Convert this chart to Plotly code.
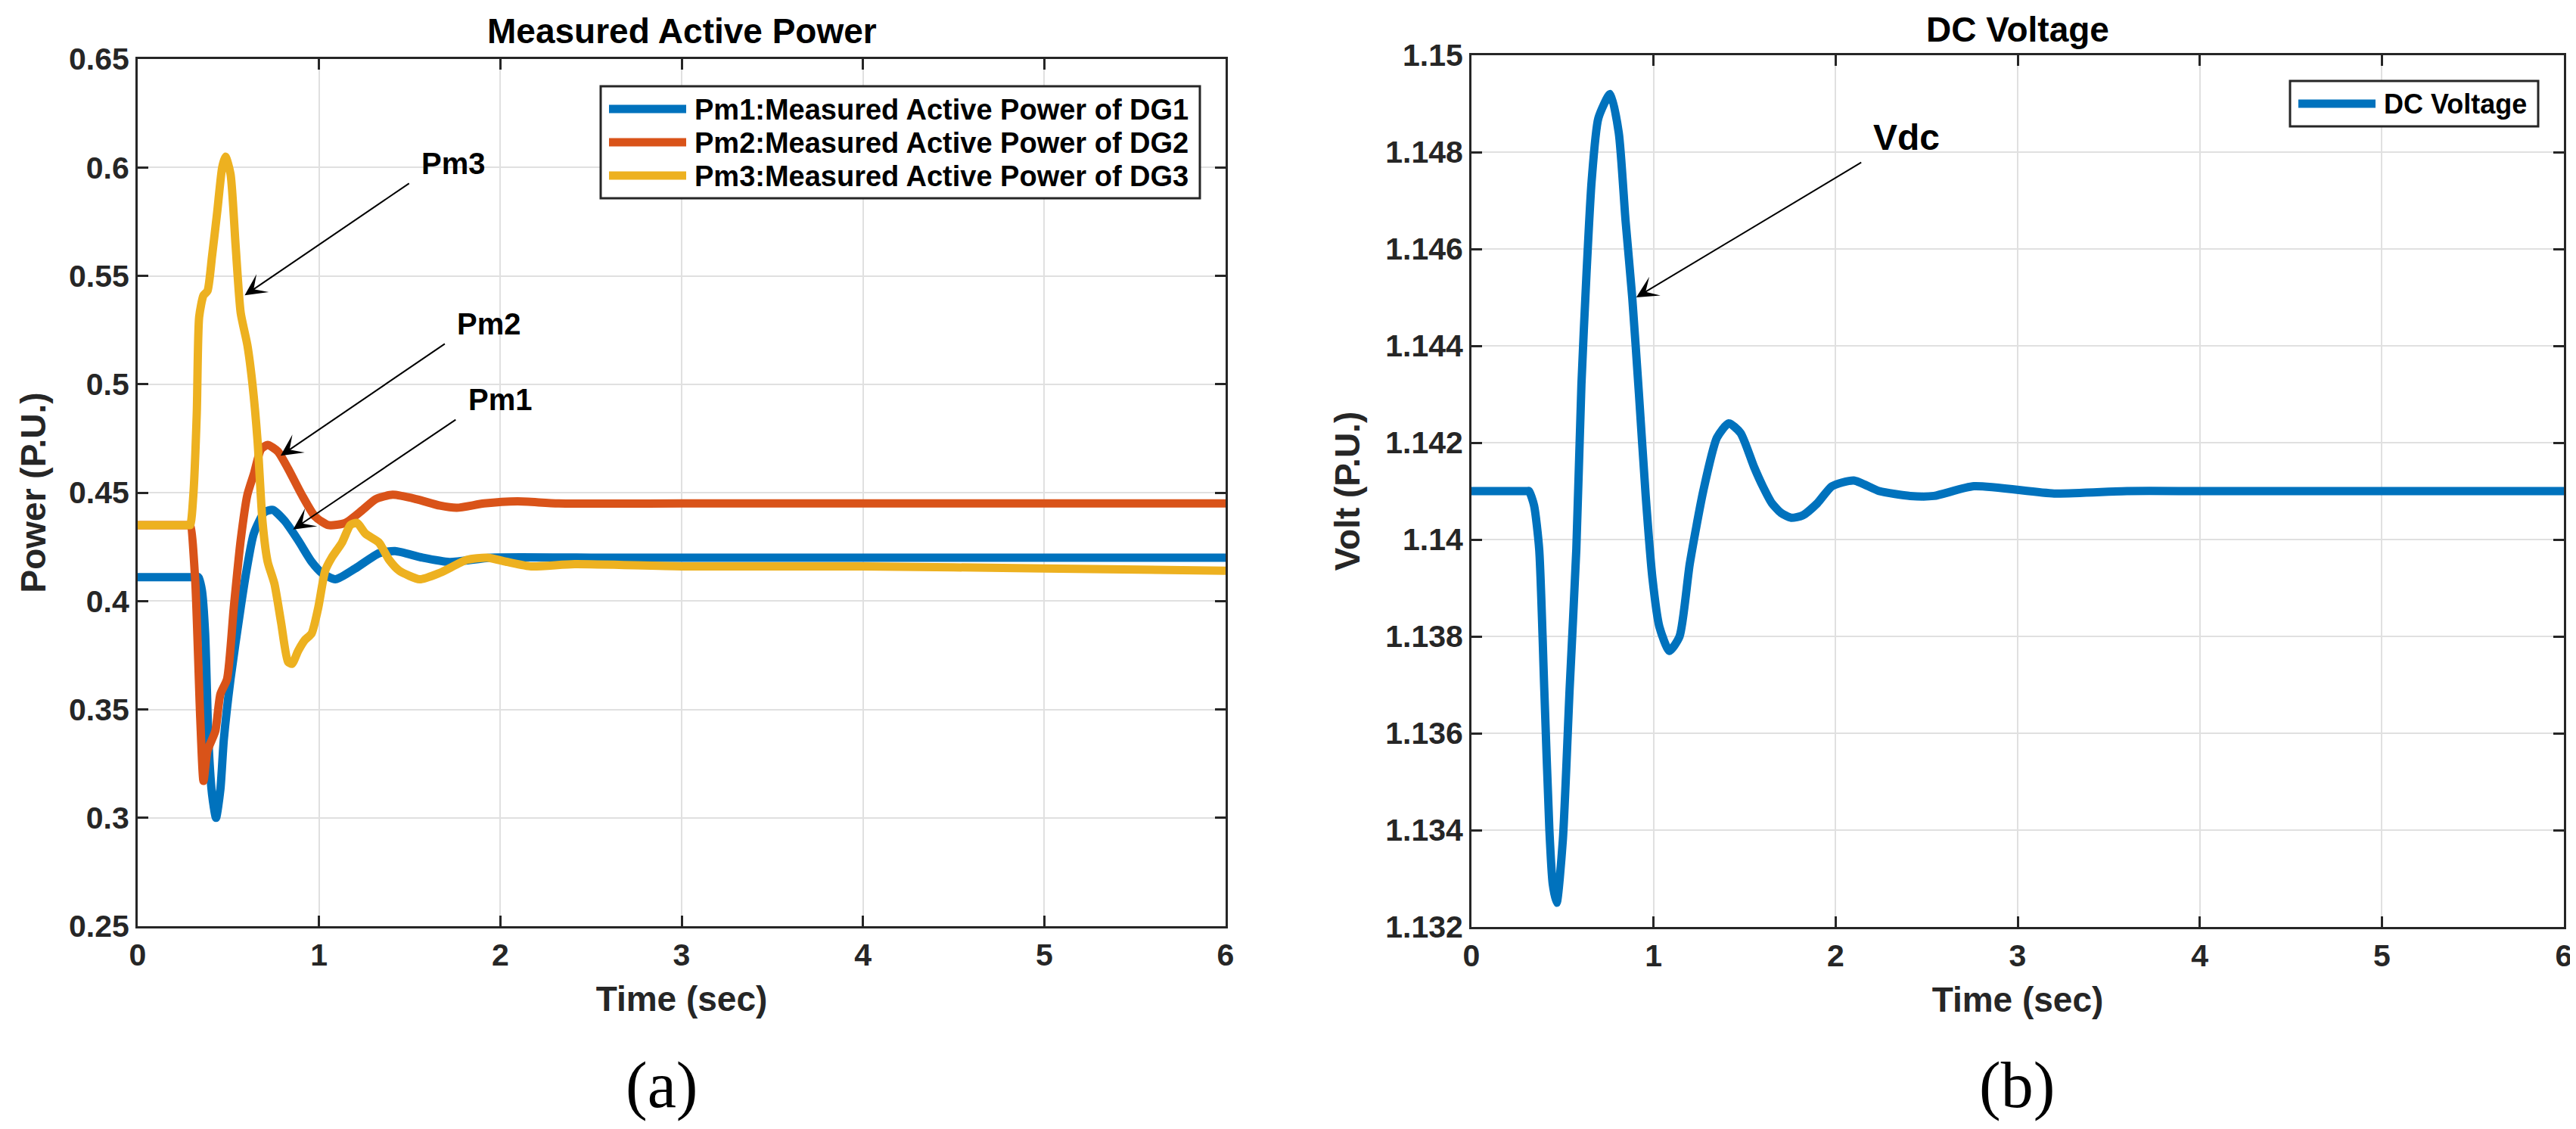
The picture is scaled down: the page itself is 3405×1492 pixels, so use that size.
import plotly.graph_objects as go

# ---------------- data ----------------
t_pm1 = [0, 0.325, 0.335, 0.354, 0.372, 0.391, 0.41, 0.432, 0.456, 0.475, 0.512, 0.568, 0.60, 0.64,
         0.70, 0.745, 0.81, 0.885, 0.96, 1.015, 1.09, 1.2, 1.33, 1.42, 1.57, 1.72, 1.95, 2.5,
         3, 4, 5, 6]
pm1 = [0.411, 0.411, 0.411, 0.405, 0.385, 0.334, 0.311, 0.300, 0.313, 0.336, 0.364, 0.397, 0.414, 0.431,
       0.441, 0.442, 0.437, 0.428, 0.418, 0.413, 0.410, 0.415, 0.422, 0.423, 0.420, 0.418, 0.420, 0.420,
       0.420, 0.420, 0.420, 0.420]

t_pm2 = [0, 0.28, 0.29, 0.317, 0.345, 0.363, 0.385, 0.428, 0.456, 0.493, 0.53, 0.568, 0.605, 0.642,
         0.68, 0.717, 0.773, 0.83, 0.905, 0.978, 1.052, 1.145, 1.24, 1.313, 1.406, 1.536, 1.667,
         1.76, 1.91, 2.095, 2.32, 3, 4, 5, 6]
pm2 = [0.435, 0.435, 0.435, 0.41, 0.346, 0.317, 0.331, 0.34, 0.357, 0.364, 0.397, 0.428, 0.449, 0.459,
       0.47, 0.472, 0.469, 0.461, 0.449, 0.439, 0.435, 0.436, 0.442, 0.447, 0.449, 0.447, 0.444,
       0.443, 0.445, 0.446, 0.445, 0.445, 0.445, 0.445, 0.445]

t_pm3 = [0, 0.28, 0.29, 0.307, 0.326, 0.339, 0.363, 0.385, 0.41, 0.438, 0.466, 0.484, 0.512, 0.54,
         0.568, 0.605, 0.633, 0.661, 0.689, 0.717, 0.754, 0.791, 0.829, 0.851, 0.885, 0.922,
         0.959, 0.996, 1.034, 1.07, 1.127, 1.173, 1.21, 1.257, 1.33, 1.387, 1.443, 1.555, 1.667,
         1.816, 1.927, 2.04, 2.17, 2.41, 3, 4, 5, 6]
pm3 = [0.435, 0.435, 0.435, 0.449, 0.487, 0.531, 0.541, 0.543, 0.559, 0.579, 0.600, 0.605, 0.597, 0.564,
       0.533, 0.518, 0.500, 0.474, 0.436, 0.418, 0.408, 0.390, 0.372, 0.371, 0.377, 0.382,
       0.385, 0.397, 0.414, 0.420, 0.427, 0.435, 0.436, 0.431, 0.427, 0.419, 0.414, 0.410, 0.413,
       0.419, 0.420, 0.418, 0.416, 0.417, 0.416, 0.416, 0.415, 0.414]

t_vdc = [0, 0.306, 0.316, 0.344, 0.372, 0.4, 0.428, 0.446, 0.468, 0.502, 0.539, 0.576, 0.604, 0.632, 0.66,
         0.697, 0.762, 0.809, 0.846, 0.883, 0.92, 0.957, 0.994, 1.032, 1.087, 1.143, 1.199,
         1.273, 1.348, 1.413, 1.478, 1.552, 1.60, 1.65, 1.70, 1.756, 1.82, 1.9, 1.98, 2.1, 2.24,
         2.41, 2.54, 2.76, 3.2, 3.6, 4, 5, 6]
vdc = [1.1410, 1.1410, 1.1410, 1.1407, 1.1398, 1.1369, 1.1340, 1.1329, 1.1325, 1.1338, 1.1369, 1.1398, 1.1432,
       1.1455, 1.1474, 1.1487, 1.1492, 1.1484, 1.1466, 1.1450, 1.1430, 1.1409, 1.1392, 1.1382,
       1.1377, 1.1380, 1.1395, 1.1410, 1.1421, 1.1424, 1.1422, 1.1415, 1.1411, 1.14075, 1.14055,
       1.14045, 1.1405, 1.14075, 1.1411, 1.14122, 1.1410, 1.1409, 1.1409, 1.1411, 1.14095, 1.1410,
       1.1410, 1.1410, 1.1410]

x_ticks = [0, 1, 2, 3, 4, 5, 6]
p_ticks = [0.25, 0.3, 0.35, 0.4, 0.45, 0.5, 0.55, 0.6, 0.65]
p_tick_text = ["0.25", "0.3", "0.35", "0.4", "0.45", "0.5", "0.55", "0.6", "0.65"]
v_ticks = [1.132, 1.134, 1.136, 1.138, 1.14, 1.142, 1.144, 1.146, 1.148, 1.15]
v_tick_text = ["1.132", "1.134", "1.136", "1.138", "1.14", "1.142", "1.144", "1.146", "1.148", "1.15"]

names = ["Pm1:Measured Active Power of DG1", "Pm2:Measured Active Power of DG2",
         "Pm3:Measured Active Power of DG3"]
vdc_name = "DC Voltage"
colors = ["#0072BD", "#D95319", "#EDB120"]

# ---------------- figure ----------------
W, H = 3405, 1492
FONT = "Liberation Sans"
AX = "#262626"
LW = 11


def px2x(p):
    return p / W


def px2y(p):
    return 1 - p / H


fig = go.Figure()
for tt, vv, nm, c in zip([t_pm1, t_pm2, t_pm3], [pm1, pm2, pm3], names, colors):
    fig.add_trace(go.Scatter(x=tt, y=vv, name=nm, mode="lines", showlegend=False,
                             line=dict(color=c, width=LW, shape="spline", smoothing=0.6),
                             xaxis="x", yaxis="y"))
fig.add_trace(go.Scatter(x=t_vdc, y=vdc, name=vdc_name, mode="lines", showlegend=False,
                         line=dict(color="#0072BD", width=LW, shape="spline", smoothing=0.6),
                         xaxis="x2", yaxis="y2"))

axis_common = dict(showline=True, linecolor=AX, linewidth=3, mirror="allticks",
                   ticks="inside", ticklen=14, tickwidth=3, tickcolor=AX,
                   showgrid=True, gridcolor="#e0e0e0", gridwidth=2, zeroline=False,
                   tickfont=dict(family=FONT, size=41, color=AX, weight="bold"),
                   automargin=False)
title_font = dict(family=FONT, size=46, color=AX, weight="bold")

fig.update_layout(
    width=W, height=H, paper_bgcolor="white", plot_bgcolor="white",
    margin=dict(l=0, r=0, t=0, b=0), showlegend=False,
    xaxis=dict(domain=[px2x(174), px2x(1612)], range=[0, 6], tickvals=x_ticks, anchor="y",
               title=dict(text="Time (sec)", standoff=20, font=title_font), **axis_common),
    yaxis=dict(domain=[px2y(1216), px2y(70)], range=[0.25, 0.65], tickvals=p_ticks,
               ticktext=p_tick_text, anchor="x",
               title=dict(text="Power (P.U.)", standoff=16, font=title_font), **axis_common),
    xaxis2=dict(domain=[px2x(1937), px2x(3381)], range=[0, 6], tickvals=x_ticks, anchor="y2",
                title=dict(text="Time (sec)", standoff=20, font=title_font), **axis_common),
    yaxis2=dict(domain=[px2y(1217), px2y(65)], range=[1.132, 1.15], tickvals=v_ticks,
                ticktext=v_tick_text, anchor="x2",
                title=dict(text="Volt (P.U.)", standoff=20, font=title_font), **axis_common),
)

ann = []
shapes = []


def center_text(text, xp, yp, font):
    ann.append(dict(text=text, x=px2x(xp), y=px2y(yp), xref="paper", yref="paper",
                    xanchor="center", yanchor="middle", showarrow=False, font=font))


# subplot titles
center_text("Measured Active Power", 893, 33, dict(family=FONT, size=46, color="black", weight="bold"))
center_text("DC Voltage", 2659, 31, dict(family=FONT, size=46, color="black", weight="bold"))
# captions
center_text("(a)", 866, 1426, dict(family="Liberation Serif", size=86, color="black"))
center_text("(b)", 2658, 1426, dict(family="Liberation Serif", size=86, color="black"))


# legends (box, line samples, labels)
def legend_box(x0, x1, y0, y1, entries, row0, dy, fsize):
    shapes.append(dict(type="rect", xref="paper", yref="paper", x0=px2x(x0), x1=px2x(x1),
                       y0=px2y(y1), y1=px2y(y0), line=dict(color=AX, width=3),
                       fillcolor="white", layer="above"))
    for i, (label, col) in enumerate(entries):
        yc = row0 + i * dy
        shapes.append(dict(type="line", xref="paper", yref="paper",
                           x0=px2x(x0 + 11), x1=px2x(x0 + 113), y0=px2y(yc), y1=px2y(yc),
                           line=dict(color=col, width=11), layer="above"))
        ann.append(dict(text=label, x=px2x(x0 + 122), y=px2y(yc + 1), xref="paper", yref="paper",
                        xanchor="left", yanchor="middle", showarrow=False,
                        font=dict(family=FONT, size=fsize, color="black", weight="bold")))


legend_box(786, 1578, 106, 254, list(zip(names, colors)), 136, 44, 38)
legend_box(3019, 3347, 99, 159, [(vdc_name, "#0072BD")], 129, 44, 36)

# arrows (head -> tail given in data coordinates)
arrows = [
    ("x", "y", 0.59, 0.541, 1.503, 0.593, "Pm3", 1.74, 0.602, 40),
    ("x", "y", 0.788, 0.467, 1.70, 0.519, "Pm2", 1.94, 0.528, 40),
    ("x", "y", 0.857, 0.433, 1.76, 0.484, "Pm1", 2.0, 0.493, 40),
    ("x2", "y2", 0.905, 1.145, 2.147, 1.1478, "Vdc", 2.39, 1.1483, 48),
]
for xr, yr, hx, hy, tx, ty, label, lx, ly, fs in arrows:
    ann.append(dict(x=hx, y=hy, ax=tx, ay=ty, xref=xr, yref=yr, axref=xr, ayref=yr,
                    showarrow=True, arrowhead=3, arrowsize=2.4, arrowwidth=2, arrowcolor="black",
                    text=""))
    ann.append(dict(x=lx, y=ly, xref=xr, yref=yr, text=label, showarrow=False,
                    xanchor="center", yanchor="middle",
                    font=dict(family=FONT, size=fs, color="black", weight="bold")))

fig.update_layout(annotations=ann, shapes=shapes)
fig.write_html("out.html")
